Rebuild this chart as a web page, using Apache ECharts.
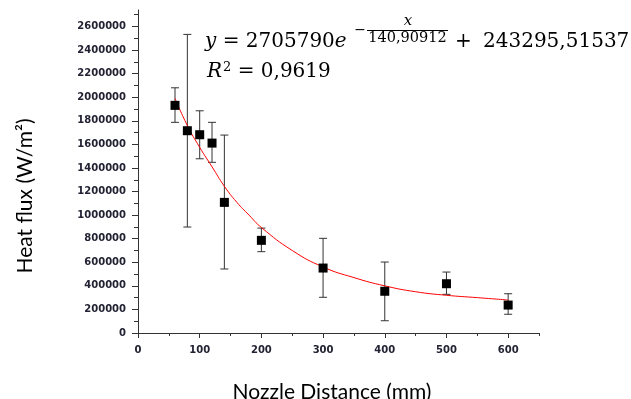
<!DOCTYPE html>
<html>
<head>
<meta charset="utf-8">
<script src="https://cdn.jsdelivr.net/npm/echarts@6/dist/echarts.min.js"></script>
<style>
  html, body { margin: 0; padding: 0; background: #fff; }
  #chart { width: 631px; height: 399px; }
</style>
</head>
<body>
<div id="chart"></div>
<script>
// measured points: nozzle distance (mm) vs heat flux (W/m2)
const distances = [60, 80, 100, 120, 140, 200, 300, 400, 500, 600];
const heatFlux = [1931000, 1716000, 1682000, 1611000, 1108000, 786000, 551000, 354000, 418000, 237000];
const errLow = [1787000, 899000, 1478000, 1448000, 543000, 690000, 303000, 104000, 328000, 159000];
const errHigh = [2080000, 2533000, 1885000, 1787000, 1679000, 890000, 803000, 602000, 517000, 333000];

// red fitted curve
const fitX = [60, 80, 100, 120, 140, 160, 180, 200, 250, 300, 350, 400, 450, 500, 550, 600];
const fitY = [1990000, 1760000, 1575000, 1410000, 1245000, 1110000, 1000000, 895000, 700000, 560000, 470000, 400000, 350000, 320000, 300000, 280000];

// ticks
const xTicks = [0, 100, 200, 300, 400, 500, 600];
const xMinorTicks = [50, 150, 250, 350, 450, 550, 650];
const yTicks = [0, 200000, 400000, 600000, 800000, 1000000, 1200000, 1400000, 1600000, 1800000, 2000000, 2200000, 2400000, 2600000];
const yMinorTicks = [100000, 300000, 500000, 700000, 900000, 1100000, 1300000, 1500000, 1700000, 1900000, 2100000, 2300000, 2500000, 2700000];

const xMax = 650;
const yMax = 2740000;

const axisColor = '#333';
const labelStyle = { fontFamily: 'DejaVu Sans', fontWeight: 'bold', fontSize: 10, color: '#222233' };

const myChart = echarts.init(document.getElementById('chart'));

const eqFont = '20px "DejaVu Serif"';
const eqItalic = 'italic 20px "DejaVu Serif"';

const options = {
  animation: false,
  grid: { left: 138, right: 92, top: 10, bottom: 66 },
  xAxis: [
    {
      type: 'value', min: 0, max: xMax,
      axisLine: { lineStyle: { color: axisColor, width: 1 } },
      axisTick: { customValues: xTicks, length: 5, lineStyle: { color: axisColor } },
      axisLabel: { customValues: xTicks, margin: 12, ...labelStyle },
      splitLine: { show: false }
    },
    {
      type: 'value', min: 0, max: xMax, position: 'bottom',
      axisLine: { show: false },
      axisTick: { customValues: xMinorTicks, length: 3, lineStyle: { color: axisColor } },
      axisLabel: { show: false },
      splitLine: { show: false }
    }
  ],
  yAxis: [
    {
      type: 'value', min: 0, max: yMax,
      axisLine: { show: true, lineStyle: { color: axisColor, width: 1 } },
      axisTick: { show: true, customValues: yTicks, length: 6, lineStyle: { color: axisColor } },
      axisLabel: { customValues: yTicks, margin: 12, formatter: v => String(v), ...labelStyle },
      splitLine: { show: false }
    },
    {
      type: 'value', min: 0, max: yMax, position: 'left',
      axisLine: { show: false },
      axisTick: { show: true, customValues: yMinorTicks, length: 4, lineStyle: { color: axisColor } },
      axisLabel: { show: false },
      splitLine: { show: false }
    }
  ],
  series: [
    {
      name: 'Error',
      type: 'custom',
      data: distances.map((d, i) => [d, errLow[i], errHigh[i]]),
      encode: { x: 0, y: [1, 2] },
      renderItem: function (params, api) {
        const x = api.value(0);
        const top = api.coord([x, api.value(2)]);
        const bot = api.coord([x, api.value(1)]);
        const w = 4;
        const style = { stroke: '#333', lineWidth: 1 };
        return {
          type: 'group',
          children: [
            { type: 'line', shape: { x1: top[0], y1: top[1], x2: bot[0], y2: bot[1] }, style: style },
            { type: 'line', shape: { x1: top[0] - w, y1: top[1], x2: top[0] + w, y2: top[1] }, style: style },
            { type: 'line', shape: { x1: bot[0] - w, y1: bot[1], x2: bot[0] + w, y2: bot[1] }, style: style }
          ]
        };
      },
      z: 2
    },
    {
      name: 'Fit',
      type: 'line',
      smooth: true,
      showSymbol: false,
      data: fitX.map((x, i) => [x, fitY[i]]),
      lineStyle: { color: '#ff0000', width: 1 },
      itemStyle: { color: '#ff0000' },
      z: 3
    },
    {
      name: 'Heat flux',
      type: 'scatter',
      symbol: 'rect',
      symbolSize: 9,
      data: distances.map((d, i) => [d, heatFlux[i]]),
      itemStyle: { color: '#000', opacity: 1 },
      z: 4
    }
  ],
  graphic: [
    // axis titles
    {
      type: 'text', x: 25, y: 196, rotation: Math.PI / 2,
      style: { text: 'Heat flux (W/m²)', font: '21px Lato', fill: '#000', textAlign: 'center', textVerticalAlign: 'middle' }
    },
    {
      type: 'text', x: 332, y: 392,
      style: { text: 'Nozzle Distance (mm)', font: '21px Lato', fill: '#000', textAlign: 'center', textVerticalAlign: 'middle' }
    },
    // fit equation
    {
      type: 'text', x: 205, y: 42,
      style: {
        text: '{i|y} = 2705790{i|e}',
        font: eqFont, fill: '#000', textVerticalAlign: 'middle',
        rich: { i: { font: eqItalic } }
      }
    },
    {
      type: 'text', x: 360, y: 30,
      style: { text: '−', font: '14px "DejaVu Serif"', fill: '#000', textAlign: 'center', textVerticalAlign: 'middle' }
    },
    {
      type: 'line', shape: { x1: 367, y1: 30.5, x2: 448, y2: 30.5 }, style: { stroke: '#000', lineWidth: 1 }
    },
    {
      type: 'text', x: 408, y: 21,
      style: { text: 'x', font: 'italic 15px "DejaVu Serif"', fill: '#000', textAlign: 'center', textVerticalAlign: 'middle' }
    },
    {
      type: 'text', x: 407.5, y: 38.5,
      style: { text: '140,90912', font: '14.5px "DejaVu Serif"', fill: '#000', textAlign: 'center', textVerticalAlign: 'middle' }
    },
    {
      type: 'text', x: 455, y: 42,
      style: { text: '+', font: eqFont, fill: '#000', textVerticalAlign: 'middle' }
    },
    {
      type: 'text', x: 483, y: 42,
      style: { text: '243295,51537', font: eqFont, fill: '#000', textVerticalAlign: 'middle' }
    },
    {
      type: 'text', x: 207, y: 72,
      style: {
        text: '{i|R}{s|2} = 0,9619',
        font: eqFont, fill: '#000', textVerticalAlign: 'middle',
        rich: { i: { font: eqItalic }, s: { font: '13px "DejaVu Serif"', padding: [0, 0, 9, 1] } }
      }
    }
  ]
};

myChart.setOption(options);
</script>
</body>
</html>
